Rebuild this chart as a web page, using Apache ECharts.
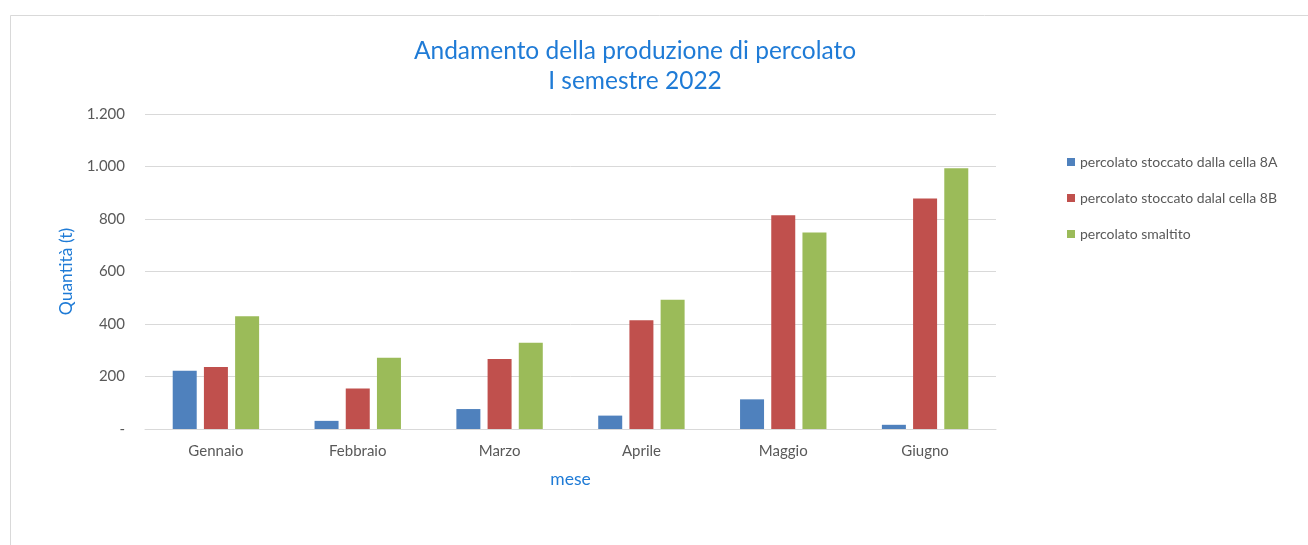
<!DOCTYPE html>
<html>
<head>
    <meta charset="utf-8">
    <title>Percolato</title>
    <style>
        html, body { margin: 0; padding: 0; background: #fff; }
    </style>
</head>
<body>
    <div id="main" style="width: 1308px;height:545px;"></div>
    <script src="https://cdn.jsdelivr.net/npm/echarts@6/dist/echarts.min.js"></script>
    <script>
        var mesi = ['Gennaio', 'Febbraio', 'Marzo', 'Aprile', 'Maggio', 'Giugno'];
        var cella8A = [222, 31, 76, 51, 113, 16];
        var cella8B = [236, 154, 267, 414, 814, 878];
        var smaltito = [430, 271, 329, 492, 749, 993];
        var nomi = ['percolato stoccato dalla cella 8A', 'percolato stoccato dalal cella 8B', 'percolato smaltito'];
        var colori = ['#4f81bd', '#c0504d', '#9bbb59'];

        var font = 'Lato';
        var myChart = echarts.init(document.getElementById('main'));

        function serie(i, data) {
            return {
                name: nomi[i],
                type: 'bar',
                data: data,
                barWidth: 24,
                barGap: '30%',
                itemStyle: {
                    color: colori[i]
                }
            };
        }

        var option = {
            animation: false,
            backgroundColor: '#fff',
            textStyle: { fontFamily: font },
            graphic: [{
                type: 'rect',
                shape: { x: 10.5, y: 15.5, width: 1400, height: 600 },
                style: { fill: 'none', stroke: '#d9d9d9', lineWidth: 1 },
                silent: true
            }],
            title: {
                text: 'Andamento della produzione di percolato\nI semestre 2022',
                left: 630,
                top: 31,
                textAlign: 'center',
                textStyle: {
                    color: '#1f7bd6',
                    fontFamily: font,
                    fontSize: 24.5,
                    fontWeight: 'normal',
                    lineHeight: 30
                }
            },
            legend: {
                orient: 'vertical',
                left: 1062,
                top: 150,
                itemGap: 22,
                itemWidth: 8,
                itemHeight: 8,
                icon: 'rect',
                data: nomi,
                textStyle: {
                    color: '#595959',
                    fontFamily: font,
                    fontSize: 14
                }
            },
            grid: {
                left: 145,
                right: 312,
                top: 114,
                bottom: 116,
                containLabel: false
            },
            xAxis: {
                type: 'category',
                data: mesi,
                name: 'mese',
                nameLocation: 'middle',
                nameGap: 41,
                nameTextStyle: { color: '#1f7bd6', fontSize: 17.5, fontFamily: font },
                axisLine: { lineStyle: { color: '#d9d9d9' } },
                axisTick: { show: false },
                axisLabel: { color: '#595959', fontSize: 15, margin: 15, fontFamily: font }
            },
            yAxis: {
                type: 'value',
                min: 0,
                max: 1200,
                interval: 200,
                name: 'Quantità (t)',
                nameLocation: 'middle',
                nameGap: 69,
                nameTextStyle: { color: '#1f7bd6', fontSize: 17.5, fontFamily: font },
                axisLine: { show: false },
                axisTick: { show: false },
                splitLine: { lineStyle: { color: '#d9d9d9', width: 1 } },
                axisLabel: {
                    color: '#595959',
                    fontSize: 15,
                    margin: 20,
                    fontFamily: font,
                    formatter: function (v) {
                        if (v === 0) return '-';
                        return String(v).replace(/\B(?=(\d{3})+(?!\d))/g, '.');
                    }
                }
            },
            series: [
                serie(0, cella8A),
                serie(1, cella8B),
                serie(2, smaltito)
            ]
        };

        myChart.setOption(option);
    </script>
</body>
</html>
